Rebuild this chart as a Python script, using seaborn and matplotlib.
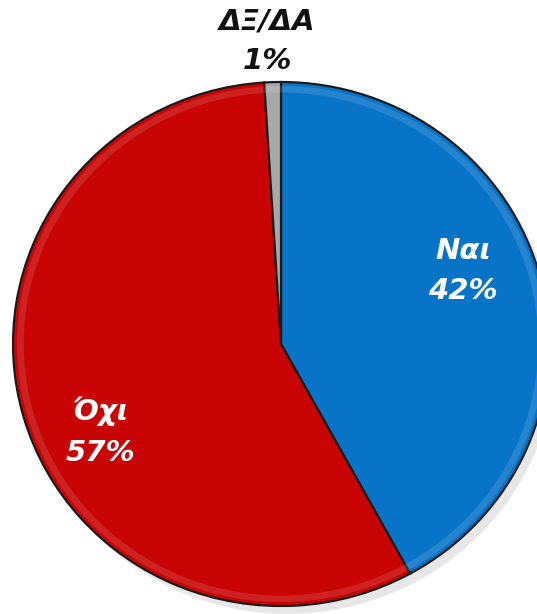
import matplotlib
matplotlib.use("Agg")
import matplotlib.pyplot as plt
import seaborn as sns

categories = ["Ναι", "Όχι", "ΔΞ/ΔΑ"]
values = [42, 57, 1]
colors = ["#0874c8", "#c80404", "#a8a8a8"]
label_pos = [(0.68, 0.28), (-0.675, -0.335), (-0.05, 1.155)]
label_colors = ["white", "white", "#111111"]

sns.set_theme(style="white")
plt.rcParams['font.family'] = ['DejaVu Sans']

fig = plt.figure(figsize=(5.37, 6.14), dpi=100)
# pie is slightly wider than tall and runs off the right edge
ax = fig.add_axes([13/537, 8/614, 536/537, 524/614])

# soft drop shadow
ax.pie(values, startangle=90, counterclock=False, center=(0.025, -0.03),
       colors=["#bbbbbb"] * 3, wedgeprops=dict(linewidth=0, alpha=0.35))
ax.pie(values, startangle=90, counterclock=False, colors=colors,
       wedgeprops=dict(edgecolor="#1a1a1a", linewidth=1.6))
# light rim to mimic the bevel
ax.pie(values, startangle=90, counterclock=False, radius=0.985,
       colors=["none"] * 3,
       wedgeprops=dict(width=0.025, edgecolor="none", facecolor=(1, 1, 1, 0.12)))

for cat, v, (x, y), c in zip(categories, values, label_pos, label_colors):
    ax.text(x, y, f"{cat}\n{v}%", ha="center", va="center", color=c,
            fontsize=21, fontweight="bold", fontstyle="italic", linespacing=1.55)

ax.set_xlim(-1, 1)
ax.set_ylim(-1, 1)
ax.set_aspect("auto")
ax.axis("off")

fig.savefig("out.png", dpi=100)
